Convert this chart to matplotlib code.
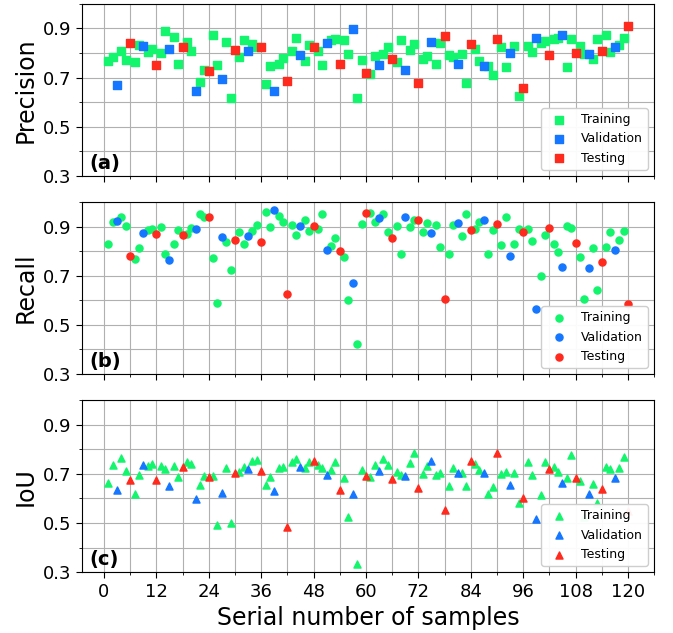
import matplotlib

matplotlib.use("Agg")

import matplotlib.pyplot as plt
import numpy as np
from matplotlib.ticker import MultipleLocator

# serial numbers of the samples
samples = list(range(1, 121))

# which samples went to validation / testing, the rest are training
val_ids = [3, 9, 15, 21, 27, 33, 39, 45, 51, 57, 63, 69, 75, 81, 87, 93, 99, 105, 111, 117]
test_ids = [6, 12, 18, 24, 30, 36, 42, 48, 54, 60, 66, 72, 78, 84, 90, 96, 102, 108, 114, 120]

precision = [
    0.766, 0.785, 0.671, 0.809, 0.771, 0.839, 0.763, 0.832, 0.828, 0.802,
    0.816, 0.751, 0.798, 0.889, 0.815, 0.865, 0.756, 0.823, 0.844, 0.810,
    0.646, 0.682, 0.730, 0.725, 0.873, 0.752, 0.696, 0.844, 0.618, 0.812,
    0.785, 0.854, 0.810, 0.838, 0.823, 0.825, 0.673, 0.747, 0.646, 0.756,
    0.779, 0.686, 0.810, 0.859, 0.791, 0.768, 0.833, 0.824, 0.809, 0.751,
    0.839, 0.852, 0.855, 0.755, 0.854, 0.797, 0.896, 0.615, 0.770, 0.718,
    0.714, 0.789, 0.750, 0.794, 0.823, 0.774, 0.763, 0.853, 0.730, 0.813,
    0.836, 0.678, 0.775, 0.789, 0.843, 0.755, 0.839, 0.869, 0.793, 0.782,
    0.756, 0.796, 0.676, 0.835, 0.816, 0.767, 0.749, 0.749, 0.710, 0.857,
    0.823, 0.743, 0.801, 0.828, 0.626, 0.658, 0.829, 0.805, 0.862, 0.840,
    0.850, 0.790, 0.855, 0.862, 0.872, 0.744, 0.858, 0.798, 0.829, 0.797,
    0.796, 0.777, 0.858, 0.808, 0.874, 0.802, 0.823, 0.833, 0.861, 0.908,
]

recall = [
    0.828, 0.919, 0.923, 0.938, 0.903, 0.779, 0.766, 0.811, 0.873, 0.885,
    0.888, 0.870, 0.900, 0.788, 0.763, 0.828, 0.886, 0.865, 0.870, 0.896,
    0.892, 0.949, 0.937, 0.939, 0.773, 0.590, 0.859, 0.836, 0.722, 0.846,
    0.878, 0.831, 0.863, 0.882, 0.908, 0.838, 0.960, 0.897, 0.968, 0.941,
    0.918, 0.626, 0.907, 0.866, 0.903, 0.928, 0.881, 0.901, 0.889, 0.950,
    0.804, 0.819, 0.853, 0.801, 0.777, 0.603, 0.671, 0.422, 0.912, 0.953,
    0.954, 0.918, 0.935, 0.951, 0.876, 0.853, 0.904, 0.790, 0.939, 0.900,
    0.927, 0.928, 0.877, 0.915, 0.874, 0.905, 0.816, 0.607, 0.788, 0.905,
    0.915, 0.861, 0.950, 0.885, 0.891, 0.918, 0.927, 0.790, 0.884, 0.912,
    0.825, 0.939, 0.781, 0.831, 0.892, 0.878, 0.892, 0.840, 0.565, 0.699,
    0.865, 0.895, 0.830, 0.798, 0.737, 0.904, 0.893, 0.832, 0.775, 0.606,
    0.733, 0.813, 0.640, 0.754, 0.815, 0.876, 0.804, 0.844, 0.882, 0.584,
]

iou = [
    0.661, 0.734, 0.636, 0.765, 0.712, 0.677, 0.619, 0.695, 0.738, 0.730,
    0.742, 0.674, 0.732, 0.718, 0.649, 0.732, 0.688, 0.727, 0.750, 0.739,
    0.597, 0.655, 0.693, 0.688, 0.692, 0.493, 0.624, 0.723, 0.499, 0.705,
    0.709, 0.727, 0.718, 0.753, 0.758, 0.711, 0.655, 0.686, 0.632, 0.722,
    0.726, 0.485, 0.747, 0.759, 0.728, 0.724, 0.750, 0.754, 0.734, 0.722,
    0.695, 0.716, 0.747, 0.634, 0.685, 0.524, 0.620, 0.335, 0.716, 0.691,
    0.688, 0.735, 0.712, 0.761, 0.734, 0.680, 0.708, 0.695, 0.693, 0.745,
    0.784, 0.642, 0.699, 0.732, 0.751, 0.697, 0.703, 0.554, 0.651, 0.723,
    0.704, 0.704, 0.651, 0.751, 0.739, 0.716, 0.704, 0.620, 0.647, 0.786,
    0.699, 0.707, 0.653, 0.704, 0.580, 0.600, 0.750, 0.697, 0.516, 0.615,
    0.747, 0.720, 0.727, 0.709, 0.662, 0.685, 0.777, 0.684, 0.669, 0.525,
    0.619, 0.659, 0.582, 0.638, 0.728, 0.720, 0.684, 0.722, 0.770, 0.550,
]

ylabels = ["Precision", "Recall", "IoU"]
panel_tags = ["(a)", "(b)", "(c)"]
markers = ["s", "o", "^"]
groups = ["Training", "Validation", "Testing"]
colors = ["#14f56e", "#1577ff", "#ff2a1e"]

x = np.array(samples)
split = np.array(["Training"] * len(samples), dtype=object)
split[np.isin(x, val_ids)] = "Validation"
split[np.isin(x, test_ids)] = "Testing"

fig, axes = plt.subplots(3, 1, figsize=(6.73, 6.33), dpi=100, sharex=True)
fig.subplots_adjust(left=0.122, right=0.972, top=0.994, bottom=0.096, hspace=0.151)

for ax, vals, lab, tag, mk in zip(axes, [precision, recall, iou], ylabels, panel_tags, markers):
    vals = np.array(vals)
    for g, c in zip(groups, colors):
        m = split == g
        ax.scatter(x[m], vals[m], s=26, marker=mk, color=c, label=g, zorder=3)
    ax.set_ylim(0.3, 1.0)
    ax.set_xlim(-5, 126)
    ax.yaxis.set_minor_locator(MultipleLocator(0.1))
    ax.xaxis.set_major_locator(MultipleLocator(12))
    ax.xaxis.set_minor_locator(MultipleLocator(6))
    ax.set_yticks([0.3, 0.5, 0.7, 0.9])
    ax.grid(True, which="both", color="#b0b0b0", linewidth=0.8, zorder=0)
    ax.set_axisbelow(True)
    ax.tick_params(axis="both", which="major", labelsize=13, length=4)
    ax.tick_params(axis="both", which="minor", length=2)
    ax.set_ylabel(lab, fontsize=17)
    ax.text(0.012, 0.02, tag, transform=ax.transAxes, fontsize=14,
            fontweight="bold", ha="left", va="bottom")
    leg = ax.legend(loc="lower right", fontsize=9, scatterpoints=1, framealpha=0.95)
    leg.set_zorder(5)

axes[-1].set_xlabel("Serial number of samples", fontsize=17)
fig.align_ylabels(axes)

plt.savefig("out.png", dpi=100)
plt.close("all")
